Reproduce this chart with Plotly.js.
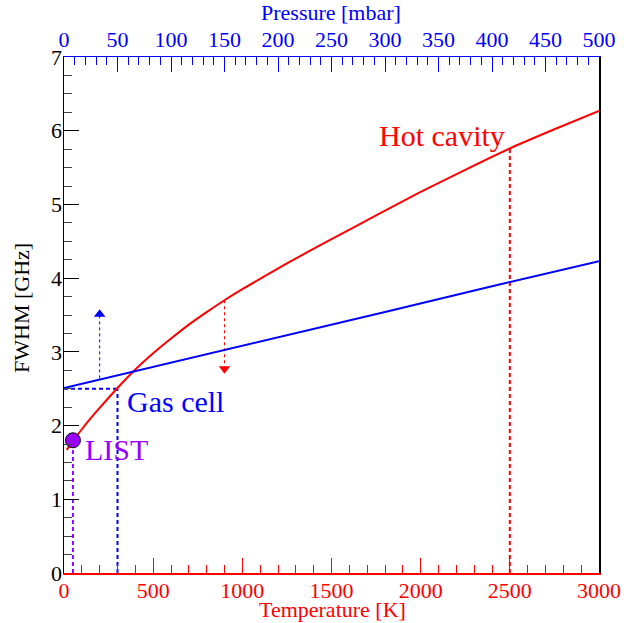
<!DOCTYPE html>
<html>
<head>
<meta charset="utf-8">
<script src="https://cdn.plot.ly/plotly-3.0.1.min.js"></script>
<style>html,body{margin:0;padding:0;background:#fff;}#chart{width:635px;height:623px;}</style>
</head>
<body>
<div id="chart"></div>
<script>
// Hot cavity (red): FWHM vs temperature
const hotT    = [15, 50, 100, 150, 200, 300, 400, 500, 600, 700, 800, 900, 1000, 1250, 1500, 1750, 2000, 2250, 2500, 2750, 3000];
const hotFWHM = [1.67, 1.79, 1.95, 2.10, 2.24, 2.51, 2.76, 2.98, 3.18, 3.37, 3.54, 3.70, 3.85, 4.20, 4.53, 4.85, 5.17, 5.47, 5.76, 6.02, 6.27];
// Gas cell (blue): FWHM vs pressure
const gasP    = [0, 100, 200, 300, 400, 500];
const gasFWHM = [2.51, 2.85, 3.20, 3.54, 3.89, 4.23];
// Reference markers
const gasCellT = 300, gasCellW = 2.5;
const hotCavT = 2500, hotCavW = 5.76;
const listT = 50, listW = 1.8;
// Arrows: x, start, tip
const blueArrow = {x: 200, from: 2.64, to: 3.58};
const redArrow  = {x: 900, from: 3.70, to: 2.70};
// Tick labels
const tempTicks = [0, 500, 1000, 1500, 2000, 2500, 3000];
const presTicks = [0, 50, 100, 150, 200, 250, 300, 350, 400, 450, 500];

const RED = '#ff0000', BLUE = '#0000ff', PURPLE = '#9900ff';
const FONT = '"Liberation Serif", "Times New Roman", serif';

const traces = [
  {x:[gasCellT,gasCellT], y:[0,gasCellW], mode:'lines', line:{color:BLUE,width:2,dash:'4px,3px'}, hoverinfo:'skip'},
  {x:[0,gasCellT], y:[gasCellW,gasCellW], mode:'lines', line:{color:BLUE,width:2,dash:'4px,3px'}, hoverinfo:'skip'},
  {x:[hotCavT,hotCavT], y:[0,hotCavW], mode:'lines', line:{color:RED,width:2,dash:'4px,3px'}, hoverinfo:'skip'},
  {x:[listT,listT], y:[0,listW], mode:'lines', line:{color:PURPLE,width:2,dash:'4px,3px'}, hoverinfo:'skip'},
  {x:[blueArrow.x,blueArrow.x], y:[blueArrow.from,blueArrow.to-0.08], mode:'lines', line:{color:BLUE,width:1,dash:'dot'}, hoverinfo:'skip'},
  {x:[blueArrow.x], y:[blueArrow.to-0.07], mode:'markers', marker:{symbol:'triangle-up',size:10,color:BLUE}, hoverinfo:'skip'},
  {x:[redArrow.x,redArrow.x], y:[redArrow.from,redArrow.to+0.08], mode:'lines', line:{color:RED,width:1,dash:'dot'}, hoverinfo:'skip'},
  {x:[redArrow.x], y:[redArrow.to+0.07], mode:'markers', marker:{symbol:'triangle-down',size:10,color:RED}, hoverinfo:'skip'},
  {x:gasP, y:gasFWHM, xaxis:'x2', yaxis:'y', mode:'lines', line:{color:BLUE,width:2}, hoverinfo:'skip'},
  {x:hotT, y:hotFWHM, mode:'lines', line:{color:RED,width:2,shape:'spline',smoothing:0.6}, hoverinfo:'skip'},
  {x:[listT], y:[listW], mode:'markers', marker:{size:15,color:PURPLE,line:{color:'#000',width:1}}, hoverinfo:'skip'}
];

const layout = {
  width:635, height:623,
  margin:{l:64, r:36, t:57, b:50},
  paper_bgcolor:'#fff', plot_bgcolor:'#fff',
  showlegend:false,
  font:{family:FONT, size:22, color:'#000'},
  xaxis:{
    range:[0,3000], tickvals:tempTicks, ticktext:tempTicks.map(String),
    color:RED, showgrid:false, zeroline:false,
    showline:true, linecolor:RED, linewidth:1.5,
    ticks:'inside', ticklen:15, tickcolor:RED, tickwidth:1,
    ticklabelstandoff:-3,
    minor:{dtick:100, ticks:'inside', ticklen:8, tickcolor:RED, tickwidth:1, showgrid:false},
    tickfont:{family:FONT, size:22, color:RED}
  },
  xaxis2:{
    range:[0,500], overlaying:'x', side:'top', anchor:'y',
    tickvals:presTicks, ticktext:presTicks.map(String),
    color:BLUE, showgrid:false, zeroline:false,
    showline:true, linecolor:BLUE, linewidth:1.5,
    ticks:'inside', ticklen:15, tickcolor:BLUE, tickwidth:1,
    ticklabelstandoff:0,
    minor:{dtick:10, ticks:'inside', ticklen:8, tickcolor:BLUE, tickwidth:1, showgrid:false},
    tickfont:{family:FONT, size:22, color:BLUE}
  },
  yaxis:{
    range:[0,7], dtick:1, tick0:0,
    color:'#000', showgrid:false, zeroline:false,
    showline:true, linecolor:'#000', linewidth:1.5, mirror:true,
    ticks:'inside', ticklen:15, tickcolor:'#000', tickwidth:1,
    ticklabelstandoff:-4,
    minor:{dtick:0.25, ticks:'inside', ticklen:8, tickcolor:'#444', tickwidth:1, showgrid:false},
    tickfont:{family:FONT, size:22, color:'#000'}
  },
  annotations:[
    {x:332, y:609, xref:'paper', yref:'paper', text:'Temperature [K]', showarrow:false, xanchor:'center', yanchor:'middle', font:{family:FONT, size:22, color:RED}},
    {x:331, y:12, xref:'paper', yref:'paper', text:'Pressure [mbar]', showarrow:false, xanchor:'center', yanchor:'middle', font:{family:FONT, size:22, color:BLUE}},
    {x:21, y:308, xref:'paper', yref:'paper', text:'FWHM [GHz]', textangle:-90, showarrow:false, xanchor:'center', yanchor:'middle', font:{family:FONT, size:22, color:'#000'}},
    {x:1753, y:5.93, xref:'x', yref:'y', text:'Hot cavity', showarrow:false, xanchor:'left', yanchor:'middle', font:{family:FONT, size:30, color:RED}},
    {x:342, y:2.32, xref:'x', yref:'y', text:'Gas cell', showarrow:false, xanchor:'left', yanchor:'middle', font:{family:FONT, size:30, color:BLUE}},
    {x:108, y:1.67, xref:'x', yref:'y', text:'LIST', showarrow:false, xanchor:'left', yanchor:'middle', font:{family:FONT, size:30, color:PURPLE}}
  ]
};

// convert pixel-placed title annotations to paper coordinates
const pw = 635 - 64 - 36, ph = 623 - 57 - 50;
layout.annotations.forEach(a => {
  if (a.xref === 'paper') {
    a.x = (a.x - 64) / pw;
    a.y = (623 - 50 - a.y) / ph;
  }
});

Plotly.newPlot('chart', traces, layout, {staticPlot:true, displayModeBar:false});
</script>
</body>
</html>
